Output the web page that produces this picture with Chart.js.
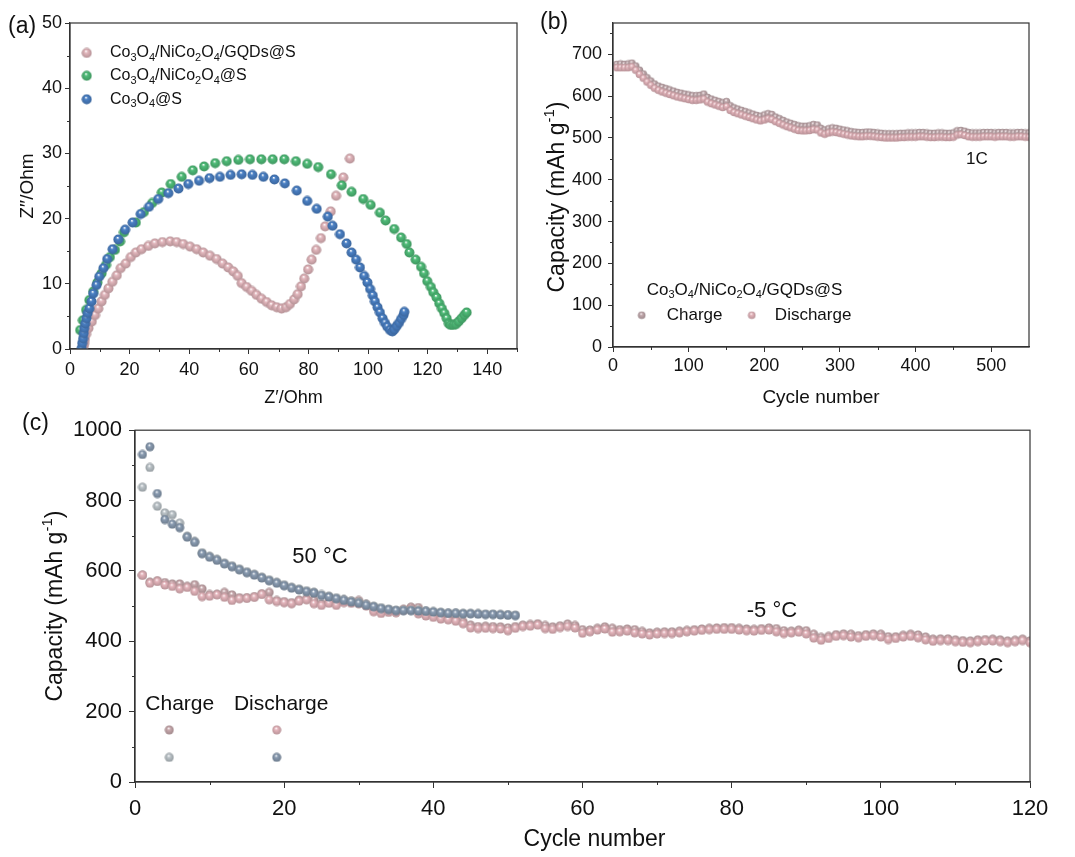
<!DOCTYPE html>
<html lang="en">
<head>
<meta charset="utf-8"/>
<script src="https://cdn.jsdelivr.net/npm/chart.js@4.4.0/dist/chart.umd.min.js"></script>
<style>
  body { margin: 0; background: #fff; }
  #wrap { position: relative; width: 1075px; height: 857px; }
  .panel { position: absolute; }
</style>
</head>
<body>
<div id="wrap">
  <div class="panel" style="left:0;top:0;width:535px;height:410px"><canvas id="chartA"></canvas></div>
  <div class="panel" style="left:530px;top:0;width:545px;height:410px"><canvas id="chartB"></canvas></div>
  <div class="panel" style="left:0;top:410px;width:1075px;height:447px"><canvas id="chartC"></canvas></div>
</div>
<script>
// ---- (a) EIS Nyquist data, Z' and Z'' in Ohm ----
const gqdZr = [4.6, 4.8, 5.0, 5.4, 6.2, 7.3, 8.4, 9.5, 10.6, 11.7, 12.9, 14.2, 15.7, 17.0, 18.7, 20.4, 22.1, 24.0, 26.3, 28.5, 31.0, 33.6, 35.8, 38.0, 40.3, 42.5, 44.7, 47.0, 49.2, 51.2, 53.1, 54.8, 56.3, 57.6, 59.3, 61.0, 62.6, 64.3, 66.0, 67.7, 69.4, 71.0, 72.5, 73.8, 75.2, 76.4, 77.5, 78.6, 79.9, 81.1, 82.6, 84.2, 85.6, 87.5, 89.3, 91.7, 93.9];
const gqdZi = [0.4, 0.9, 1.5, 2.3, 3.2, 4.2, 5.2, 6.2, 7.3, 8.3, 9.3, 10.3, 11.3, 12.4, 13.1, 14.1, 14.8, 15.3, 15.8, 16.2, 16.4, 16.5, 16.4, 16.1, 15.7, 15.3, 14.8, 14.3, 13.8, 13.1, 12.5, 11.9, 11.2, 10.1, 9.5, 8.9, 8.3, 7.7, 7.2, 6.7, 6.4, 6.2, 6.4, 6.9, 7.6, 8.4, 9.6, 10.8, 12.2, 13.7, 15.2, 17.0, 18.8, 21.1, 23.5, 26.3, 29.2];

const niZr = [3.4, 4.3, 5.4, 6.5, 7.8, 9.2, 10.6, 12.1, 13.4, 15.1, 16.8, 18.1, 22.1, 24.8, 27.6, 30.8, 33.8, 37.5, 41.2, 45.0, 48.7, 52.6, 56.5, 60.4, 64.2, 68.0, 71.9, 75.8, 79.6, 83.3, 87.6, 91.2, 94.5, 98.4, 100.9, 104.0, 105.9, 108.8, 111.1, 113.0, 113.9, 116.0, 117.8, 118.8, 119.9, 121.1, 121.9, 123.0, 123.9, 124.8, 125.6, 126.4, 127.1, 127.7, 128.6, 129.5, 130.4, 131.4, 132.3, 133.1];
const niZi = [2.9, 4.4, 6.0, 7.5, 8.8, 10.2, 11.6, 12.9, 14.1, 15.2, 16.5, 17.9, 19.4, 21.0, 22.4, 24.0, 25.3, 26.4, 27.4, 28.0, 28.5, 28.8, 29.0, 29.1, 29.1, 29.1, 29.1, 28.8, 28.4, 27.9, 26.8, 25.1, 24.1, 23.0, 22.1, 20.9, 19.7, 18.4, 17.1, 16.1, 14.8, 13.7, 12.6, 11.6, 10.4, 9.5, 8.7, 7.9, 7.0, 6.2, 5.5, 4.7, 3.9, 3.7, 3.7, 3.8, 4.2, 4.7, 5.2, 5.6];

const coZr = [3.9, 4.1, 4.4, 4.6, 4.8, 5.1, 5.5, 5.9, 6.5, 7.2, 7.8, 8.9, 9.8, 11.2, 12.5, 14.3, 16.2, 18.5, 21.0, 23.7, 26.5, 29.6, 33.0, 36.4, 39.7, 43.3, 46.8, 50.3, 53.9, 57.6, 61.2, 64.9, 68.6, 72.1, 76.1, 79.6, 82.8, 86.5, 88.1, 90.6, 92.8, 94.5, 96.0, 97.3, 98.7, 99.8, 100.7, 101.6, 102.3, 103.2, 104.0, 104.9, 105.7, 106.5, 107.4, 108.2, 108.8, 109.6, 110.4, 111.1, 111.9, 112.2];
const coZi = [0.1, 0.9, 1.6, 2.4, 3.2, 3.9, 4.7, 5.5, 6.2, 7.3, 8.5, 9.8, 11.1, 12.4, 13.8, 15.3, 16.8, 18.3, 19.4, 20.7, 21.8, 23.0, 23.9, 24.6, 25.3, 25.8, 26.2, 26.4, 26.7, 26.8, 26.7, 26.4, 26.0, 25.4, 24.3, 22.7, 21.5, 20.3, 18.9, 17.6, 16.2, 14.8, 13.7, 12.5, 11.2, 10.2, 9.2, 8.2, 7.3, 6.4, 5.6, 4.7, 4.0, 3.4, 2.9, 2.7, 3.0, 3.5, 4.0, 4.6, 5.2, 5.7];

// ---- (b) long cycling at 1C ----
const cyclesB = [5, 10, 15, 20, 25, 30, 35, 40, 45, 50, 55, 60, 65, 70, 75, 80, 85, 90, 95, 100, 105, 110, 115, 120, 125, 130, 135, 140, 145, 150, 155, 160, 165, 170, 175, 180, 185, 190, 195, 200, 205, 210, 215, 220, 225, 230, 235, 240, 245, 250, 255, 260, 265, 270, 275, 280, 285, 290, 295, 300, 305, 310, 315, 320, 325, 330, 335, 340, 345, 350, 355, 360, 365, 370, 375, 380, 385, 390, 395, 400, 405, 410, 415, 420, 425, 430, 435, 440, 445, 450, 455, 460, 465, 470, 475, 480, 485, 490, 495, 500, 505, 510, 515, 520, 525, 530, 535, 540, 545, 550];
const dischargeB = [668, 668, 668, 668, 670, 662, 652, 643, 634, 626, 619, 614, 610, 607, 604, 601, 598, 596, 594, 592, 590, 590, 591, 593, 586, 582, 579, 576, 573, 575, 566, 561, 558, 555, 552, 549, 546, 543, 541, 543, 546, 544, 539, 535, 531, 527, 524, 521, 518, 517, 517, 518, 520, 519, 512, 509, 512, 514, 513, 511, 509, 507, 505, 504, 503, 503, 504, 504, 503, 502, 501, 500, 500, 500, 500, 501, 501, 502, 502, 502, 503, 503, 502, 501, 501, 502, 502, 501, 501, 502, 507, 508, 506, 503, 502, 502, 502, 503, 503, 503, 502, 503, 503, 503, 502, 502, 503, 503, 502, 502];
const chargeB = [676, 677, 676, 677, 679, 672, 662, 653, 644, 636, 629, 624, 621, 618, 615, 612, 609, 607, 605, 603, 601, 601, 602, 605, 597, 593, 590, 587, 584, 587, 577, 572, 569, 566, 563, 560, 557, 554, 552, 555, 558, 556, 550, 546, 542, 538, 535, 532, 529, 528, 528, 529, 532, 531, 523, 519, 522, 524, 523, 521, 519, 517, 515, 514, 513, 513, 514, 514, 513, 512, 511, 510, 510, 510, 510, 511, 511, 512, 512, 512, 513, 513, 512, 511, 511, 512, 512, 511, 511, 512, 517, 518, 516, 513, 512, 512, 512, 513, 513, 513, 512, 513, 513, 513, 512, 512, 513, 513, 512, 512];

// ---- (c) 0.2C at 50 °C and -5 °C ----
const cyclesHot = [1, 2, 3, 4, 5, 6, 7, 8, 9, 10, 11, 12, 13, 14, 15, 16, 17, 18, 19, 20, 21, 22, 23, 24, 25, 26, 27, 28, 29, 30, 31, 32, 33, 34, 35, 36, 37, 38, 39, 40, 41, 42, 43, 44, 45, 46, 47, 48, 49, 50, 51];
const hotDischarge = [931, 953, 820, 746, 733, 723, 696, 681, 649, 639, 630, 620, 612, 603, 595, 588, 580, 572, 565, 558, 551, 546, 541, 537, 530, 526, 521, 516, 512, 508, 502, 498, 493, 490, 487, 487, 487, 486, 485, 483, 481, 479, 479, 478, 478, 477, 476, 476, 475, 474, 473];
const hotCharge = [838, 894, 784, 765, 760, 736, 699, 684, 652, 642, 633, 623, 615, 606, 598, 591, 583, 575, 568, 561, 554, 549, 544, 540, 533, 529, 524, 519, 515, 511, 505, 500, 496, 492, 489, 489, 489, 488, 487, 485, 483, 481, 481, 480, 480, 479, 478, 478, 477, 476, 475];

const cyclesCold = [1, 2, 3, 4, 5, 6, 7, 8, 9, 10, 11, 12, 13, 14, 15, 16, 17, 18, 19, 20, 21, 22, 23, 24, 25, 26, 27, 28, 29, 30, 31, 32, 33, 34, 35, 36, 37, 38, 39, 40, 41, 42, 43, 44, 45, 46, 47, 48, 49, 50, 51, 52, 53, 54, 55, 56, 57, 58, 59, 60, 61, 62, 63, 64, 65, 66, 67, 68, 69, 70, 71, 72, 73, 74, 75, 76, 77, 78, 79, 80, 81, 82, 83, 84, 85, 86, 87, 88, 89, 90, 91, 92, 93, 94, 95, 96, 97, 98, 99, 100, 101, 102, 103, 104, 105, 106, 107, 108, 109, 110, 111, 112, 113, 114, 115, 116, 117, 118, 119, 120];
const coldDischarge = [588, 565, 570, 560, 556, 549, 553, 542, 527, 528, 532, 525, 516, 521, 522, 525, 533, 518, 513, 510, 507, 514, 518, 507, 502, 508, 502, 510, 508, 507, 500, 484, 479, 482, 481, 488, 492, 478, 472, 468, 463, 461, 457, 450, 438, 436, 437, 436, 435, 430, 437, 442, 443, 446, 436, 434, 439, 442, 438, 423, 427, 432, 435, 426, 427, 429, 424, 421, 418, 421, 422, 422, 424, 427, 429, 431, 433, 434, 434, 434, 432, 430, 429, 431, 432, 427, 422, 424, 426, 421, 409, 403, 408, 414, 416, 412, 410, 414, 416, 412, 405, 408, 412, 414, 410, 404, 400, 402, 402, 399, 397, 396, 399, 401, 401, 399, 396, 399, 402, 396];
const coldCharge = [588, 568, 572, 567, 563, 563, 556, 561, 549, 533, 534, 539, 532, 524, 524, 527, 535, 539, 516, 513, 510, 517, 521, 516, 507, 511, 506, 516, 514, 516, 505, 490, 486, 487, 485, 491, 497, 496, 480, 474, 469, 465, 462, 456, 446, 442, 443, 442, 441, 438, 442, 446, 448, 450, 445, 441, 444, 449, 445, 433, 432, 437, 441, 437, 433, 435, 433, 428, 424, 426, 427, 427, 429, 431, 433, 435, 437, 438, 439, 439, 437, 435, 434, 436, 438, 436, 430, 429, 432, 430, 420, 411, 414, 419, 421, 420, 416, 419, 421, 420, 413, 413, 417, 420, 418, 412, 406, 407, 407, 404, 402, 401, 404, 405, 406, 404, 401, 403, 406, 401];

// minor tick positions
const minorA_x = [10, 30, 50, 70, 90, 110, 130, 150];
const minorA_y = [5, 15, 25, 35, 45];
const minorB_x = [50, 150, 250, 350, 450];
const minorB_y = [50, 150, 250, 350, 450, 550, 650, 750];
const minorC_x = [10, 30, 50, 70, 90, 110];
const minorC_y = [100, 300, 500, 700, 900];

const FONT = '"Liberation Sans", Arial, sans-serif';

// shaded sphere used as point marker
function shade(hex, f) {
  const n = parseInt(hex.slice(1), 16);
  const c = [n >> 16, (n >> 8) & 255, n & 255].map(v => Math.max(0, Math.min(255, Math.round(v * (1 + f)))));
  return 'rgb(' + c.join(',') + ')';
}
function ball(color, r) {
  const c = document.createElement('canvas');
  const s = Math.ceil(r * 2 + 1);
  c.width = s; c.height = s;
  const g = c.getContext('2d');
  const cx = s / 2, cy = s / 2;
  const grad = g.createRadialGradient(cx - r * 0.15, cy - r * 0.4, r * 0.05, cx, cy, r);
  grad.addColorStop(0, '#ffffff');
  grad.addColorStop(0.3, color);
  grad.addColorStop(1, shade(color, -0.2));
  g.fillStyle = grad;
  g.beginPath(); g.arc(cx, cy, r, 0, Math.PI * 2); g.fill();
  return c;
}

// text with _{sub} and ^{sup}
function richParts(str) {
  const out = [];
  const re = /_\{([^}]*)\}|\^\{([^}]*)\}|([^_^]+)/g;
  let m;
  while ((m = re.exec(str))) {
    if (m[1] !== undefined) out.push({ t: m[1], k: 'sub' });
    else if (m[2] !== undefined) out.push({ t: m[2], k: 'sup' });
    else out.push({ t: m[3], k: 'n' });
  }
  return out;
}
function drawRich(ctx, str, x, y, size, align) {
  const parts = richParts(str);
  const fontOf = k => (k === 'n' ? size : Math.round(size * 0.66)) + 'px ' + FONT;
  let w = 0;
  parts.forEach(p => { ctx.font = fontOf(p.k); p.w = ctx.measureText(p.t).width; w += p.w; });
  let cx = align === 'center' ? x - w / 2 : align === 'right' ? x - w : x;
  ctx.textAlign = 'left';
  ctx.textBaseline = 'middle';
  parts.forEach(p => {
    ctx.font = fontOf(p.k);
    const dy = p.k === 'sub' ? size * 0.3 : p.k === 'sup' ? -size * 0.35 : 0;
    ctx.fillText(p.t, cx, y + dy);
    cx += p.w;
  });
}

// frame, minor ticks, titles, legends and labels
const decor = {
  id: 'decor',
  afterDraw(chart, args, o) {
    const { ctx, chartArea: a, scales } = chart;
    ctx.save();
    ctx.strokeStyle = '#333';
    ctx.lineWidth = 1.2;
    ctx.strokeRect(a.left, a.top, a.right - a.left, a.bottom - a.top);
    ctx.lineWidth = 1;
    ctx.beginPath();
    (o.minorX || []).forEach(v => {
      const px = Math.round(scales.x.getPixelForValue(v)) + 0.5;
      ctx.moveTo(px, a.bottom); ctx.lineTo(px, a.bottom + 3);
    });
    (o.minorY || []).forEach(v => {
      const py = Math.round(scales.y.getPixelForValue(v)) + 0.5;
      ctx.moveTo(a.left, py); ctx.lineTo(a.left - 3, py);
    });
    ctx.stroke();
    ctx.fillStyle = '#111';
    if (o.xTitle) drawRich(ctx, o.xTitle.text, (a.left + a.right) / 2 + (o.xTitle.dx || 0), a.bottom + o.xTitle.off, o.xTitle.size, 'center');
    if (o.yTitle) {
      ctx.save();
      ctx.translate(o.yTitle.x, (a.top + a.bottom) / 2 + (o.yTitle.dy || 0));
      ctx.rotate(-Math.PI / 2);
      drawRich(ctx, o.yTitle.text, 0, 0, o.yTitle.size, 'center');
      ctx.restore();
    }
    if (o.tag) drawRich(ctx, o.tag.text, o.tag.x, o.tag.y, o.tag.size, 'left');
    (o.notes || []).forEach(n => {
      const px = scales.x.getPixelForValue(n.x), py = scales.y.getPixelForValue(n.y);
      if (n.img) ctx.drawImage(n.img, px - n.img.width / 2, py - n.img.height / 2);
      else drawRich(ctx, n.text, px, py, n.size, n.align || 'left');
    });
    ctx.restore();
  }
};

function pts(xs, ys) { return xs.map((x, i) => ({ x: x, y: ys[i] })); }

function axis(min, max, step, tick, pad, fit, size) {
  return {
    type: 'linear', min: min, max: max,
    border: { color: '#333', width: 1.2 },
    grid: { display: true, drawOnChartArea: false, tickLength: tick, color: '#333' },
    ticks: {
      stepSize: step, includeBounds: false, autoSkip: false, maxRotation: 0, color: '#111', padding: pad,
      font: { family: FONT, size: size },
      callback: v => String(v)
    },
    afterFit: fit
  };
}

function baseOptions(layoutPad, xAx, yAx, deco) {
  return {
    responsive: true, maintainAspectRatio: false, animation: false,
    layout: { padding: layoutPad },
    scales: { x: xAx, y: yAx },
    plugins: { legend: { display: false }, tooltip: { enabled: false }, decor: deco }
  };
}

// ---------- (a) ----------
const pinkA = ball('#e2b6bc', 5), greenA = ball('#4fbc78', 5), blueA = ball('#4a80c4', 5);
new Chart(document.getElementById('chartA'), {
  type: 'scatter',
  data: {
    datasets: [
      { data: pts(coZr, coZi), pointStyle: blueA, pointRadius: 5 },
      { data: pts(niZr, niZi), pointStyle: greenA, pointRadius: 5 },
      { data: pts(gqdZr, gqdZi), pointStyle: pinkA, pointRadius: 5 }
    ]
  },
  options: baseOptions({ top: 23, right: 18, left: 0, bottom: 0 },
    axis(0, 150, 20, 5, 5, s => { s.height = 61; }, 18),
    axis(0, 50, 10, 5, 3, s => { s.width = 70; }, 18),
    {
      minorX: minorA_x, minorY: minorA_y,
      xTitle: { text: 'Z′/Ohm', off: 49, size: 18 },
      yTitle: { text: 'Z′′/Ohm', x: 28, size: 19 },
      tag: { text: '(a)', x: 8, y: 27, size: 23 },
      notes: [
        { img: pinkA, x: 5.6, y: 45.4 }, { text: 'Co_{3}O_{4}/NiCo_{2}O_{4}/GQDs@S', x: 13.4, y: 45.4, size: 16 },
        { img: greenA, x: 5.6, y: 41.9 }, { text: 'Co_{3}O_{4}/NiCo_{2}O_{4}@S', x: 13.4, y: 41.9, size: 16 },
        { img: blueA, x: 5.6, y: 38.3 }, { text: 'Co_{3}O_{4}@S', x: 13.4, y: 38.3, size: 16 }
      ]
    }),
  plugins: [decor]
});

// ---------- (b) ----------
const chargeBallB = ball('#c3aaae', 3.8), dischargeBallB = ball('#e5b5bc', 3.8);
new Chart(document.getElementById('chartB'), {
  type: 'scatter',
  data: {
    datasets: [
      { data: pts(cyclesB, dischargeB), pointStyle: dischargeBallB, pointRadius: 4 },
      { data: pts(cyclesB, chargeB), pointStyle: chargeBallB, pointRadius: 4 }
    ]
  },
  options: baseOptions({ top: 23, right: 46, left: 0, bottom: 0 },
    axis(0, 550, 100, 5, 3, s => { s.height = 63; }, 18),
    axis(0, 775, 100, 5, 6, s => { s.width = 83; }, 18),
    {
      minorX: minorB_x, minorY: minorB_y,
      xTitle: { text: 'Cycle number', off: 51, size: 19 },
      yTitle: { text: 'Capacity (mAh g^{-1})', x: 28, dy: 12, size: 23 },
      tag: { text: '(b)', x: 10, y: 23, size: 23 },
      notes: [
        { text: 'Co_{3}O_{4}/NiCo_{2}O_{4}/GQDs@S', x: 44.6, y: 136, size: 17 },
        { img: chargeBallB, x: 38, y: 76 }, { text: 'Charge', x: 71, y: 76, size: 17 },
        { img: dischargeBallB, x: 183.5, y: 76 }, { text: 'Discharge', x: 214, y: 76, size: 17 },
        { text: '1C', x: 481, y: 449, size: 17, align: 'center' }
      ]
    }),
  plugins: [decor]
});

// ---------- (c) ----------
const hotD = ball('#8a9cb2', 4.5), hotC = ball('#bcc4c9', 4.5), coldD = ball('#e6b6bd', 4.5), coldC = ball('#c9aaae', 4.5);
new Chart(document.getElementById('chartC'), {
  type: 'scatter',
  data: {
    datasets: [
      { data: pts(cyclesHot, hotDischarge), pointStyle: hotD, pointRadius: 4.5 },
      { data: pts(cyclesHot, hotCharge), pointStyle: hotC, pointRadius: 4.5 },
      { data: pts(cyclesCold, coldDischarge), pointStyle: coldD, pointRadius: 4.5 },
      { data: pts(cyclesCold, coldCharge), pointStyle: coldC, pointRadius: 4.5 }
    ]
  },
  options: baseOptions({ top: 13, right: 45, left: 0, bottom: 0 },
    axis(0, 120, 20, 6, 8, s => { s.height = 75; }, 22),
    axis(0, 1000, 200, 6, 7, s => { s.width = 135; }, 22),
    {
      minorX: minorC_x, minorY: minorC_y,
      xTitle: { text: 'Cycle number', off: 58, size: 23, dx: 12 },
      yTitle: { text: 'Capacity (mAh g^{-1})', x: 56, size: 23 },
      tag: { text: '(c)', x: 22, y: 14, size: 23 },
      notes: [
        { text: 'Charge', x: 6, y: 220, size: 21, align: 'center' },
        { text: 'Discharge', x: 19.6, y: 220, size: 21, align: 'center' },
        { img: coldC, x: 4.6, y: 148 }, { img: coldD, x: 19, y: 148 },
        { img: hotC, x: 4.6, y: 70 }, { img: hotD, x: 19, y: 70 },
        { text: '50 °C', x: 24.8, y: 640, size: 22, align: 'center' },
        { text: '-5 °C', x: 85.4, y: 487, size: 22, align: 'center' },
        { text: '0.2C', x: 113.3, y: 326, size: 22, align: 'center' }
      ]
    }),
  plugins: [decor]
});
</script>
</body>
</html>
